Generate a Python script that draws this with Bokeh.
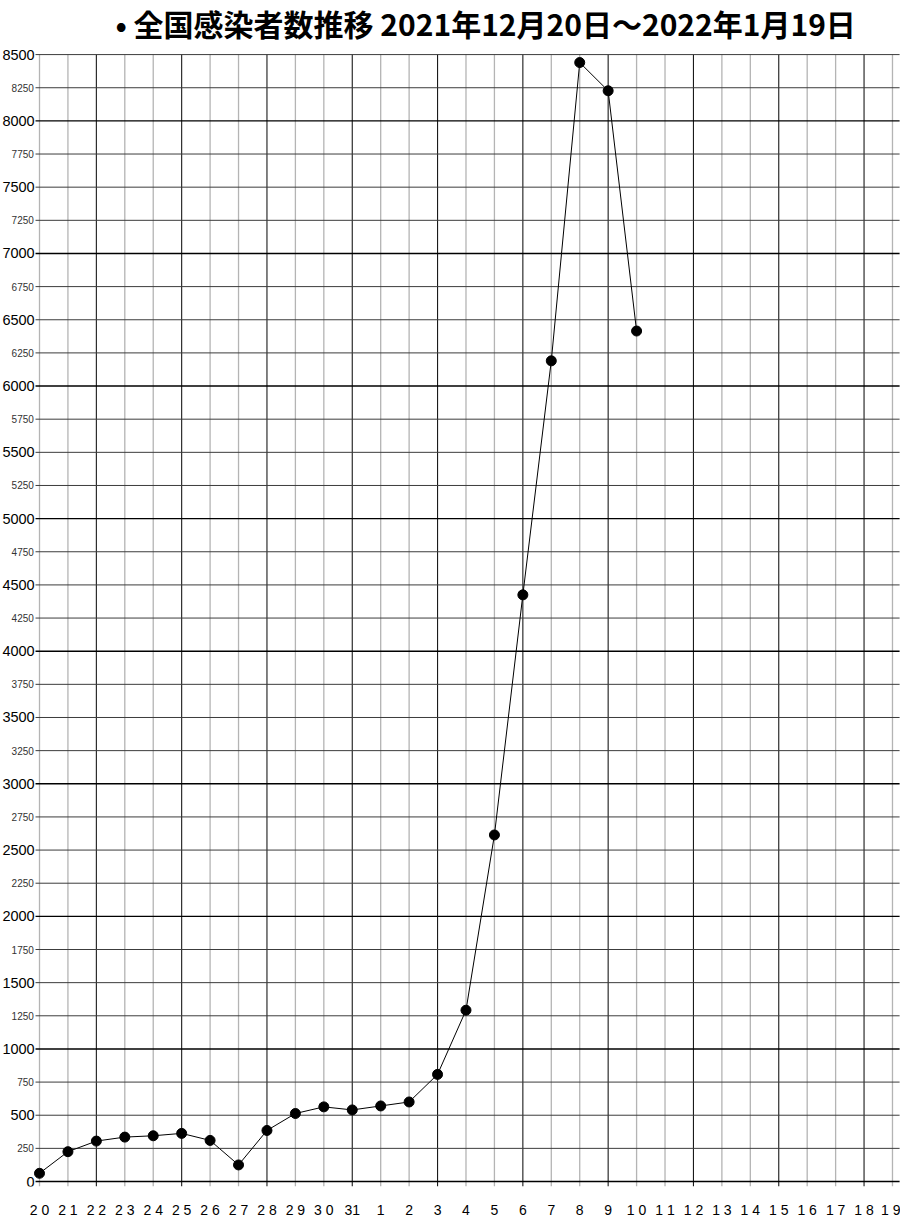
from bokeh.plotting import figure
from bokeh.models import Range1d, FixedTicker, ColumnDataSource
from bokeh.core.properties import value
from bokeh.embed import file_html
from bokeh.resources import INLINE

# Daily nationwide case counts, 2021-12-20 .. 2022-01-10
cases = [62, 225, 305, 335, 345, 363, 310, 125, 385, 513, 563, 540,
         570, 600, 808, 1292, 2614, 4425, 6190, 8440, 8227, 6415]

# Day labels along the bottom, 12/20 .. 1/19
day_labels = ["2 0", "2 1", "2 2", "2 3", "2 4", "2 5", "2 6", "2 7", "2 8", "2 9",
              "3 0", "31", "1", "2", "3", "4", "5", "6", "7", "8", "9",
              "1 0", "1 1", "1 2", "1 3", "1 4", "1 5", "1 6", "1 7", "1 8", "1 9"]

# Value grid: labelled every 250, larger text on every 500
major_ticks = [0, 500, 1000, 1500, 2000, 2500, 3000, 3500, 4000,
               4500, 5000, 5500, 6000, 6500, 7000, 7500, 8000, 8500]
minor_ticks = [250, 750, 1250, 1750, 2250, 2750, 3250, 3750, 4250,
               4750, 5250, 5750, 6250, 6750, 7250, 7750, 8250]

TITLE = "• 全国感染者数推移 2021年12月20日～2022年1月19日"
SANS = "Liberation Sans"

n_days = len(day_labels)
day_idx = list(range(n_days))
y_top = max(major_ticks)

# The frame spans the whole canvas width and reaches the top edge, so the
# value labels and the heading can be placed in data space.
p = figure(width=900, height=1220, output_backend="svg", toolbar_location=None,
           x_range=Range1d(-1.3716, 30.282), y_range=Range1d(-37.6, 8908),
           min_border_left=0, min_border_right=0, min_border_top=0, min_border_bottom=30,
           y_axis_location=None, outline_line_color=None,
           background_fill_color="white", border_fill_color="white")
p.grid.visible = False

# vertical day lines: every third one darker
v_dark = [i for i in day_idx if i % 3 == 2]
v_light = [i for i in day_idx if i % 3 != 2]
p.segment(x0=v_light, x1=v_light, y0=[-37.6] * len(v_light), y1=[y_top] * len(v_light),
          line_color="#b4b4b4", line_width=1.3)
p.segment(x0=v_dark, x1=v_dark, y0=[-37.6] * len(v_dark), y1=[y_top] * len(v_dark),
          line_color="#1a1a1a", line_width=1.1)

# horizontal value lines, thousands emphasised
all_ticks = sorted(major_ticks + minor_ticks)
thousands = [t for t in all_ticks if t % 1000 == 0]
others = [t for t in all_ticks if t % 1000 != 0]
x_left, x_right = -0.14, 30.25
p.segment(x0=[x_left] * len(others), x1=[x_right] * len(others), y0=others, y1=others,
          line_color="#3c3c3c", line_width=1.0)
p.segment(x0=[x_left] * len(thousands), x1=[x_right] * len(thousands), y0=thousands, y1=thousands,
          line_color="#000000", line_width=1.4)

# value labels
p.text(x=[-0.17] * len(major_ticks), y=major_ticks, text=[str(t) for t in major_ticks],
       text_align="right", text_baseline="middle", text_font=value(SANS),
       text_font_size="14.5px", text_color="black")
p.text(x=[-0.2] * len(minor_ticks), y=minor_ticks, text=[str(t) for t in minor_ticks],
       text_align="right", text_baseline="middle", text_font=value(SANS),
       text_font_size="10px", text_color="#333333")

# heading
p.text(x=[2.67], y=[8735], text=[TITLE], text_align="left", text_baseline="middle",
       text_font=value("Noto Sans CJK JP"), text_font_style="bold",
       text_font_size="30px", text_color="black")

# case series
src = ColumnDataSource(dict(x=day_idx[:len(cases)], y=cases))
p.line("x", "y", source=src, line_color="black", line_width=1)
p.scatter("x", "y", source=src, size=10, fill_color="black", line_color="black")

# day axis
xa = p.xaxis[0]
xa.ticker = FixedTicker(ticks=day_idx)
xa.major_label_overrides = {i: lab for i, lab in zip(day_idx, day_labels)}
xa.axis_line_color = None
xa.major_tick_line_color = None
xa.minor_tick_line_color = None
xa.major_label_standoff = 9
xa.major_label_text_font = SANS
xa.major_label_text_font_size = "14px"
xa.major_label_text_color = "black"

open("out.html", "w").write(file_html(p, INLINE))
